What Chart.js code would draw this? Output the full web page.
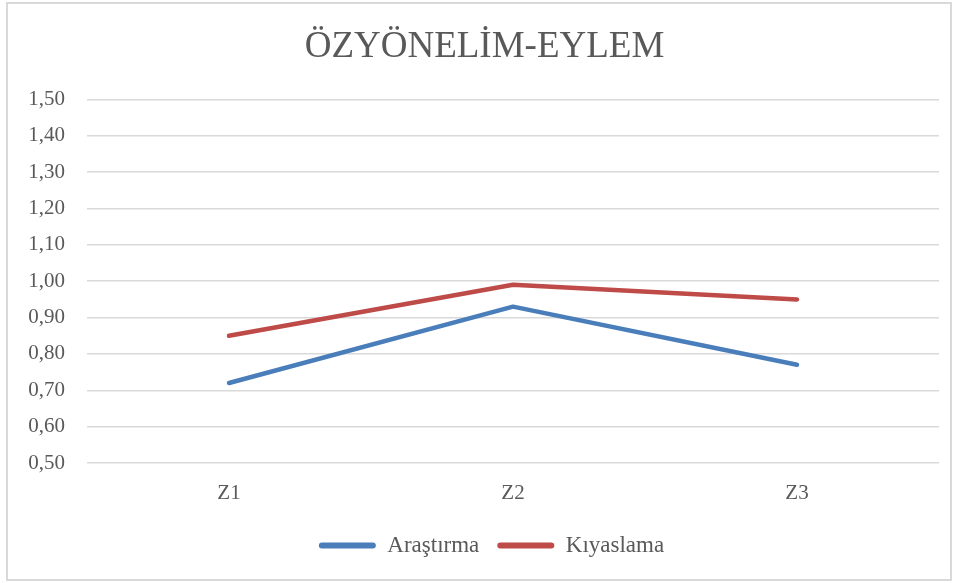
<!DOCTYPE html>
<html>
<head>
<meta charset="utf-8">
<script src="https://cdn.jsdelivr.net/npm/chart.js@4"></script>
<style>
  html, body { margin: 0; padding: 0; background: #fff; }
  #frame {
    position: absolute; left: 6px; top: 2px;
    width: 946px; height: 579px;
    box-sizing: border-box;
    border: 2px solid #d9d9d9;
    background: #fff;
  }
  #chart { display: block; }
</style>
</head>
<body>
<div id="frame"><canvas id="chart" width="942" height="575"></canvas></div>
<script>
/* Data */
const TITLE = 'ÖZYÖNELİM-EYLEM';
const CATEGORIES = ['Z1', 'Z2', 'Z3'];
const ARASTIRMA = [0.72, 0.93, 0.77];
const KIYASLAMA = [0.85, 0.99, 0.95];
const SERIES_NAMES = ['Araştırma', 'Kıyaslama'];
const COLORS = ['#4a7ebb', '#be4b48'];

const FONT = 'Liberation Serif, "Times New Roman", serif';
const TEXT = '#595959';

// Excel centres title/legend a bit right of the frame centre
const nudge = {
  id: 'nudge',
  afterLayout(chart) {
    if (chart.titleBlock) { chart.titleBlock.left += 11; chart.titleBlock.right += 11; }
    if (chart.legend) { chart.legend.left += 18; chart.legend.right += 18; }
  },
};

new Chart(document.getElementById('chart'), {
  type: 'line',
  data: {
    labels: CATEGORIES,
    datasets: [ARASTIRMA, KIYASLAMA].map((vals, i) => ({
      label: SERIES_NAMES[i],
      data: vals,
      borderColor: COLORS[i],
      backgroundColor: COLORS[i],
      borderWidth: 4.5,
      borderCapStyle: 'round',
      borderJoinStyle: 'round',
      pointRadius: 0,
      pointHoverRadius: 0,
      tension: 0,
    })),
  },
  plugins: [nudge],
  options: {
    responsive: false,
    animation: false,
    layout: { padding: { left: 0, right: 11, bottom: 12 } },
    plugins: {
      title: {
        display: true,
        text: TITLE,
        color: TEXT,
        font: { family: FONT, size: 37, weight: 'normal' },
        padding: { top: 21, bottom: 30 },
      },
      legend: {
        position: 'bottom',
        labels: {
          color: TEXT,
          font: { family: FONT, size: 23 },
          boxWidth: 57,
          boxHeight: 6,
          padding: 18,
          generateLabels: chart => chart.data.datasets.map((ds, i) => ({
            text: ds.label,
            fillStyle: ds.borderColor,
            strokeStyle: ds.borderColor,
            lineWidth: 0,
            borderRadius: 3,
            fontColor: TEXT,
            datasetIndex: i,
          })),
        },
      },
      tooltip: { enabled: false },
    },
    scales: {
      x: {
        offset: true,
        afterFit: scale => { scale.height = 53; },
        grid: { display: false, drawTicks: false },
        border: { display: false },
        ticks: { color: TEXT, font: { family: FONT, size: 21 }, padding: 18 },
      },
      y: {
        min: 0.5,
        max: 1.5,
        afterFit: scale => { scale.width = 79; },
        grid: { color: '#d9d9d9', lineWidth: 1.5, drawTicks: false },
        border: { display: false },
        ticks: {
          stepSize: 0.1,
          color: TEXT,
          padding: 22,
          font: { family: FONT, size: 21 },
          callback: v => Number(v).toFixed(2).replace('.', ','),
        },
      },
    },
  },
});
</script>
</body>
</html>
